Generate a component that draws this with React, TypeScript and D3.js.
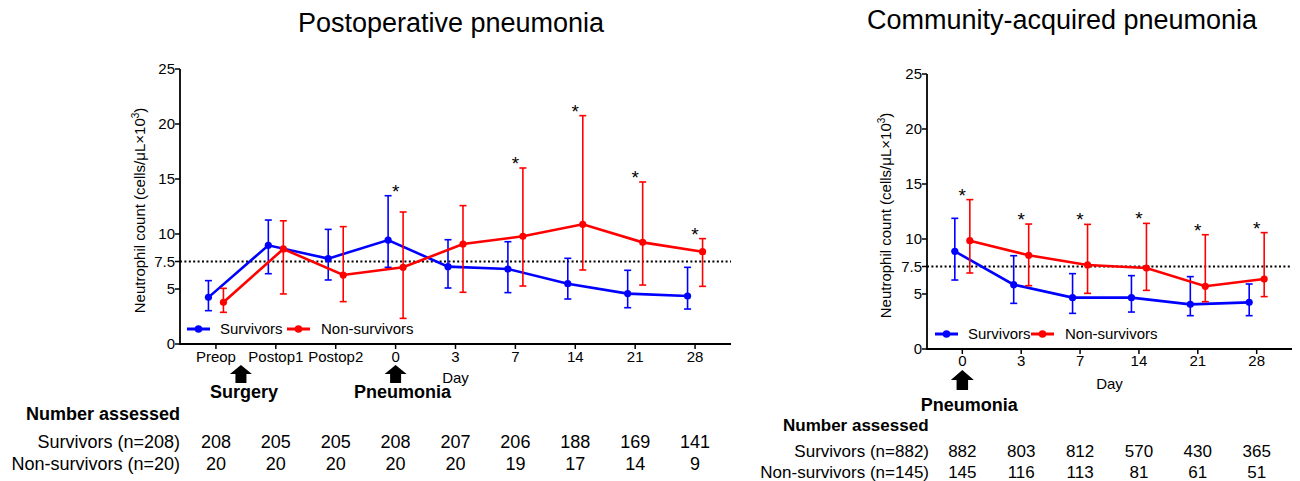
import * as d3 from "d3"

// postoperative pneumonia
const postCategories = ["Preop", "Postop1", "Postop2", "0", "3", "7", "14", "21", "28"]
const postSurvMean = [4.24, 8.97, 7.76, 9.45, 7.03, 6.82, 5.48, 4.58, 4.36]
const postSurvLow = [3.03, 6.39, 5.82, 6.97, 5.09, 4.67, 4.09, 3.3, 3.18]
const postSurvHigh = [5.76, 11.27, 10.42, 13.48, 9.48, 9.3, 7.79, 6.7, 6.97]
const postNonMean = [3.79, 8.64, 6.27, 6.97, 9.09, 9.79, 10.88, 9.24, 8.39]
const postNonLow = [2.88, 4.55, 3.85, 2.33, 4.7, 5.27, 6.73, 5.36, 5.24]
const postNonHigh = [5.06, 11.2, 10.67, 12.0, 12.58, 16.0, 20.76, 14.73, 9.58]
const postStars = [false, false, false, true, false, true, true, true, true]
const postNSurv = [208, 205, 205, 208, 207, 206, 188, 169, 141]
const postNNon = [20, 20, 20, 20, 20, 19, 17, 14, 9]

// community-acquired pneumonia
const capCategories = ["0", "3", "7", "14", "21", "28"]
const capSurvMean = [8.88, 5.85, 4.67, 4.67, 4.06, 4.24]
const capSurvLow = [6.27, 4.15, 3.24, 3.36, 3.03, 3.03]
const capSurvHigh = [11.88, 8.48, 6.85, 6.67, 6.58, 5.91]
const capNonMean = [9.85, 8.52, 7.64, 7.36, 5.7, 6.36]
const capNonLow = [6.91, 5.76, 5.06, 5.33, 4.3, 4.76]
const capNonHigh = [13.58, 11.36, 11.33, 11.42, 10.39, 10.58]
const capStars = [true, true, true, true, true, true]
const capNSurv = [882, 803, 812, 570, 430, 365]
const capNNon = [145, 116, 113, 81, 61, 51]

const yTicks = [0, 5, 7.5, 10, 15, 20, 25]
const threshold = 7.5

const FONT = "'Liberation Sans', Arial, Helvetica, sans-serif"
const BLUE = "#0000ff"
const RED = "#ff0000"

const arrowPath = (cx, ty, w, h) => {
  const hw = w / 2, sw = w / 4, hh = h / 2
  return `M${cx},${ty}L${cx + hw},${ty + hh}L${cx + sw},${ty + hh}L${cx + sw},${ty + h}L${cx - sw},${ty + h}L${cx - sw},${ty + hh}L${cx - hw},${ty + hh}Z`
}

const Series = ({ x, y, cats, mean, low, high, color, offset }) => {
  const pts = cats.map((c, i) => [x(c) + offset, y(mean[i])])
  const line = d3.line()
  return (
    <g>
      {cats.map((c, i) => {
        const cx = x(c) + offset
        return (
          <g key={c} stroke={color} strokeWidth={1.6}>
            <line x1={cx} x2={cx} y1={y(low[i])} y2={y(high[i])} />
            <line x1={cx - 3.5} x2={cx + 3.5} y1={y(low[i])} y2={y(low[i])} />
            <line x1={cx - 3.5} x2={cx + 3.5} y1={y(high[i])} y2={y(high[i])} />
          </g>
        )
      })}
      <path d={line(pts)} fill="none" stroke={color} strokeWidth={2.6} />
      {pts.map((p, i) => (
        <circle key={i} cx={p[0]} cy={p[1]} r={3.6} fill={color} />
      ))}
    </g>
  )
}

const Panel = ({
  title, titleX, titleY, cats, survMean, survLow, survHigh, nonMean, nonLow, nonHigh, stars,
  nSurv, nNon, survLabel, nonLabel, left, right, top, bottom, tableFont, events,
  labelX, legendX, legendDx, rowRight, headX, headY, rowY, tickBaseline, dayBaseline,
}) => {
  const x = d3.scalePoint().domain(cats).range([left, right]).padding(0.6)
  const y = d3.scaleLinear().domain([0, 25]).range([bottom, top])
  const legendY = y(0) - 15
  return (
    <g fontFamily={FONT} fill="#000">
      <text x={titleX} y={titleY} fontSize={27} textAnchor="middle">{title}</text>

      {/* threshold */}
      <line x1={left} x2={right} y1={y(threshold)} y2={y(threshold)} stroke="#000" strokeWidth={2} strokeDasharray="2,2.4" />

      <Series x={x} y={y} cats={cats} mean={survMean} low={survLow} high={survHigh} color={BLUE} offset={-7.5} />
      <Series x={x} y={y} cats={cats} mean={nonMean} low={nonLow} high={nonHigh} color={RED} offset={7.5} />

      {/* significance */}
      {cats.map((c, i) => stars[i] ? (
        <text key={c} x={x(c)} y={y(Math.max(survHigh[i], nonHigh[i])) + 2} fontSize={19} textAnchor="middle">*</text>
      ) : null)}

      {/* y axis */}
      <line x1={left} x2={left} y1={top} y2={bottom} stroke="#000" strokeWidth={1.8} />
      {yTicks.map(t => (
        <g key={t}>
          <line x1={left - 5} x2={left} y1={y(t)} y2={y(t)} stroke="#000" strokeWidth={1.5} />
          <text x={left - 5} y={y(t)} dy="0.35em" fontSize={15} textAnchor="end">{t}</text>
        </g>
      ))}
      <text transform={`translate(${labelX},${(top + bottom) / 2 + 4}) rotate(-90)`} fontSize={15} textAnchor="middle">
        Neutrophil count (cells/μL×10<tspan fontSize={10} dy={-6}>3</tspan><tspan dy={6}>)</tspan>
      </text>

      {/* x axis */}
      <line x1={left - 1} x2={right} y1={bottom} y2={bottom} stroke="#000" strokeWidth={1.8} />
      {cats.map(c => (
        <g key={c}>
          <line x1={x(c)} x2={x(c)} y1={bottom} y2={bottom + 5} stroke="#000" strokeWidth={1.5} />
          <text x={x(c)} y={tickBaseline} fontSize={15} textAnchor="middle">{c}</text>
        </g>
      ))}
      <text x={(left + right) / 2} y={dayBaseline} fontSize={15} textAnchor="middle">Day</text>

      {/* legend */}
      <line x1={legendX} x2={legendX + 23} y1={legendY} y2={legendY} stroke={BLUE} strokeWidth={3} />
      <circle cx={legendX + 11.5} cy={legendY} r={3.8} fill={BLUE} />
      <text x={legendX + 33} y={legendY} dy="0.35em" fontSize={15}>Survivors</text>
      <line x1={legendX + legendDx} x2={legendX + legendDx + 23} y1={legendY} y2={legendY} stroke={RED} strokeWidth={3} />
      <circle cx={legendX + legendDx + 11.5} cy={legendY} r={3.8} fill={RED} />
      <text x={legendX + legendDx + 34} y={legendY} dy="0.35em" fontSize={15}>Non-survivors</text>

      {/* events */}
      {events.map(ev => (
        <g key={ev.label}>
          <path d={arrowPath(x(ev.at) + ev.dx, ev.top, ev.w, ev.h)} fill="#000" />
          <text x={x(ev.at) + ev.dx + ev.textDx} y={ev.textY} fontSize={18} fontWeight="bold" textAnchor="middle">{ev.label}</text>
        </g>
      ))}

      {/* number assessed */}
      <text x={headX} y={headY} fontSize={tableFont} fontWeight="bold">Number assessed</text>
      <text x={rowRight} y={rowY[0]} fontSize={tableFont} textAnchor="end">{survLabel}</text>
      <text x={rowRight} y={rowY[1]} fontSize={tableFont} textAnchor="end">{nonLabel}</text>
      {cats.map((c, i) => (
        <g key={c} fontSize={tableFont} textAnchor="middle">
          <text x={x(c)} y={rowY[0]}>{nSurv[i]}</text>
          <text x={x(c)} y={rowY[1]}>{nNon[i]}</text>
        </g>
      ))}
    </g>
  )
}

export default function App() {
  return (
    <svg width={1300} height={481} style={{ position: "absolute", left: 0, top: 0, background: "#fff" }}>
      <Panel
        title="Postoperative pneumonia" titleX={451} titleY={32}
        cats={postCategories} survMean={postSurvMean} survLow={postSurvLow} survHigh={postSurvHigh}
        nonMean={postNonMean} nonLow={postNonLow} nonHigh={postNonHigh} stars={postStars}
        nSurv={postNSurv} nNon={postNNon} survLabel="Survivors (n=208)" nonLabel="Non-survivors (n=20)"
        left={180} right={731} top={69} bottom={344} tableFont={18}
        events={[
          { at: "Preop", dx: 25, top: 365, w: 22, h: 18, label: "Surgery", textDx: 3, textY: 398 },
          { at: "0", dx: 0, top: 365, w: 22, h: 18, label: "Pneumonia", textDx: 7, textY: 398 },
        ]}
        labelX={145} legendX={187} legendDx={100} rowRight={180} headX={26} headY={420} rowY={[448, 470]}
        tickBaseline={362} dayBaseline={383}
      />
      <Panel
        title="Community-acquired pneumonia" titleX={1062} titleY={29}
        cats={capCategories} survMean={capSurvMean} survLow={capSurvLow} survHigh={capSurvHigh}
        nonMean={capNonMean} nonLow={capNonLow} nonHigh={capNonHigh} stars={capStars}
        nSurv={capNSurv} nNon={capNNon} survLabel="Survivors (n=882)" nonLabel="Non-survivors (n=145)"
        left={927} right={1292} top={74} bottom={349} tableFont={17}
        events={[
          { at: "0", dx: 0, top: 370, w: 23, h: 20, label: "Pneumonia", textDx: 7, textY: 411 },
        ]}
        labelX={891} legendX={935} legendDx={96} rowRight={929} headX={783} headY={431} rowY={[457, 478]}
        tickBaseline={366} dayBaseline={389}
      />
    </svg>
  )
}
